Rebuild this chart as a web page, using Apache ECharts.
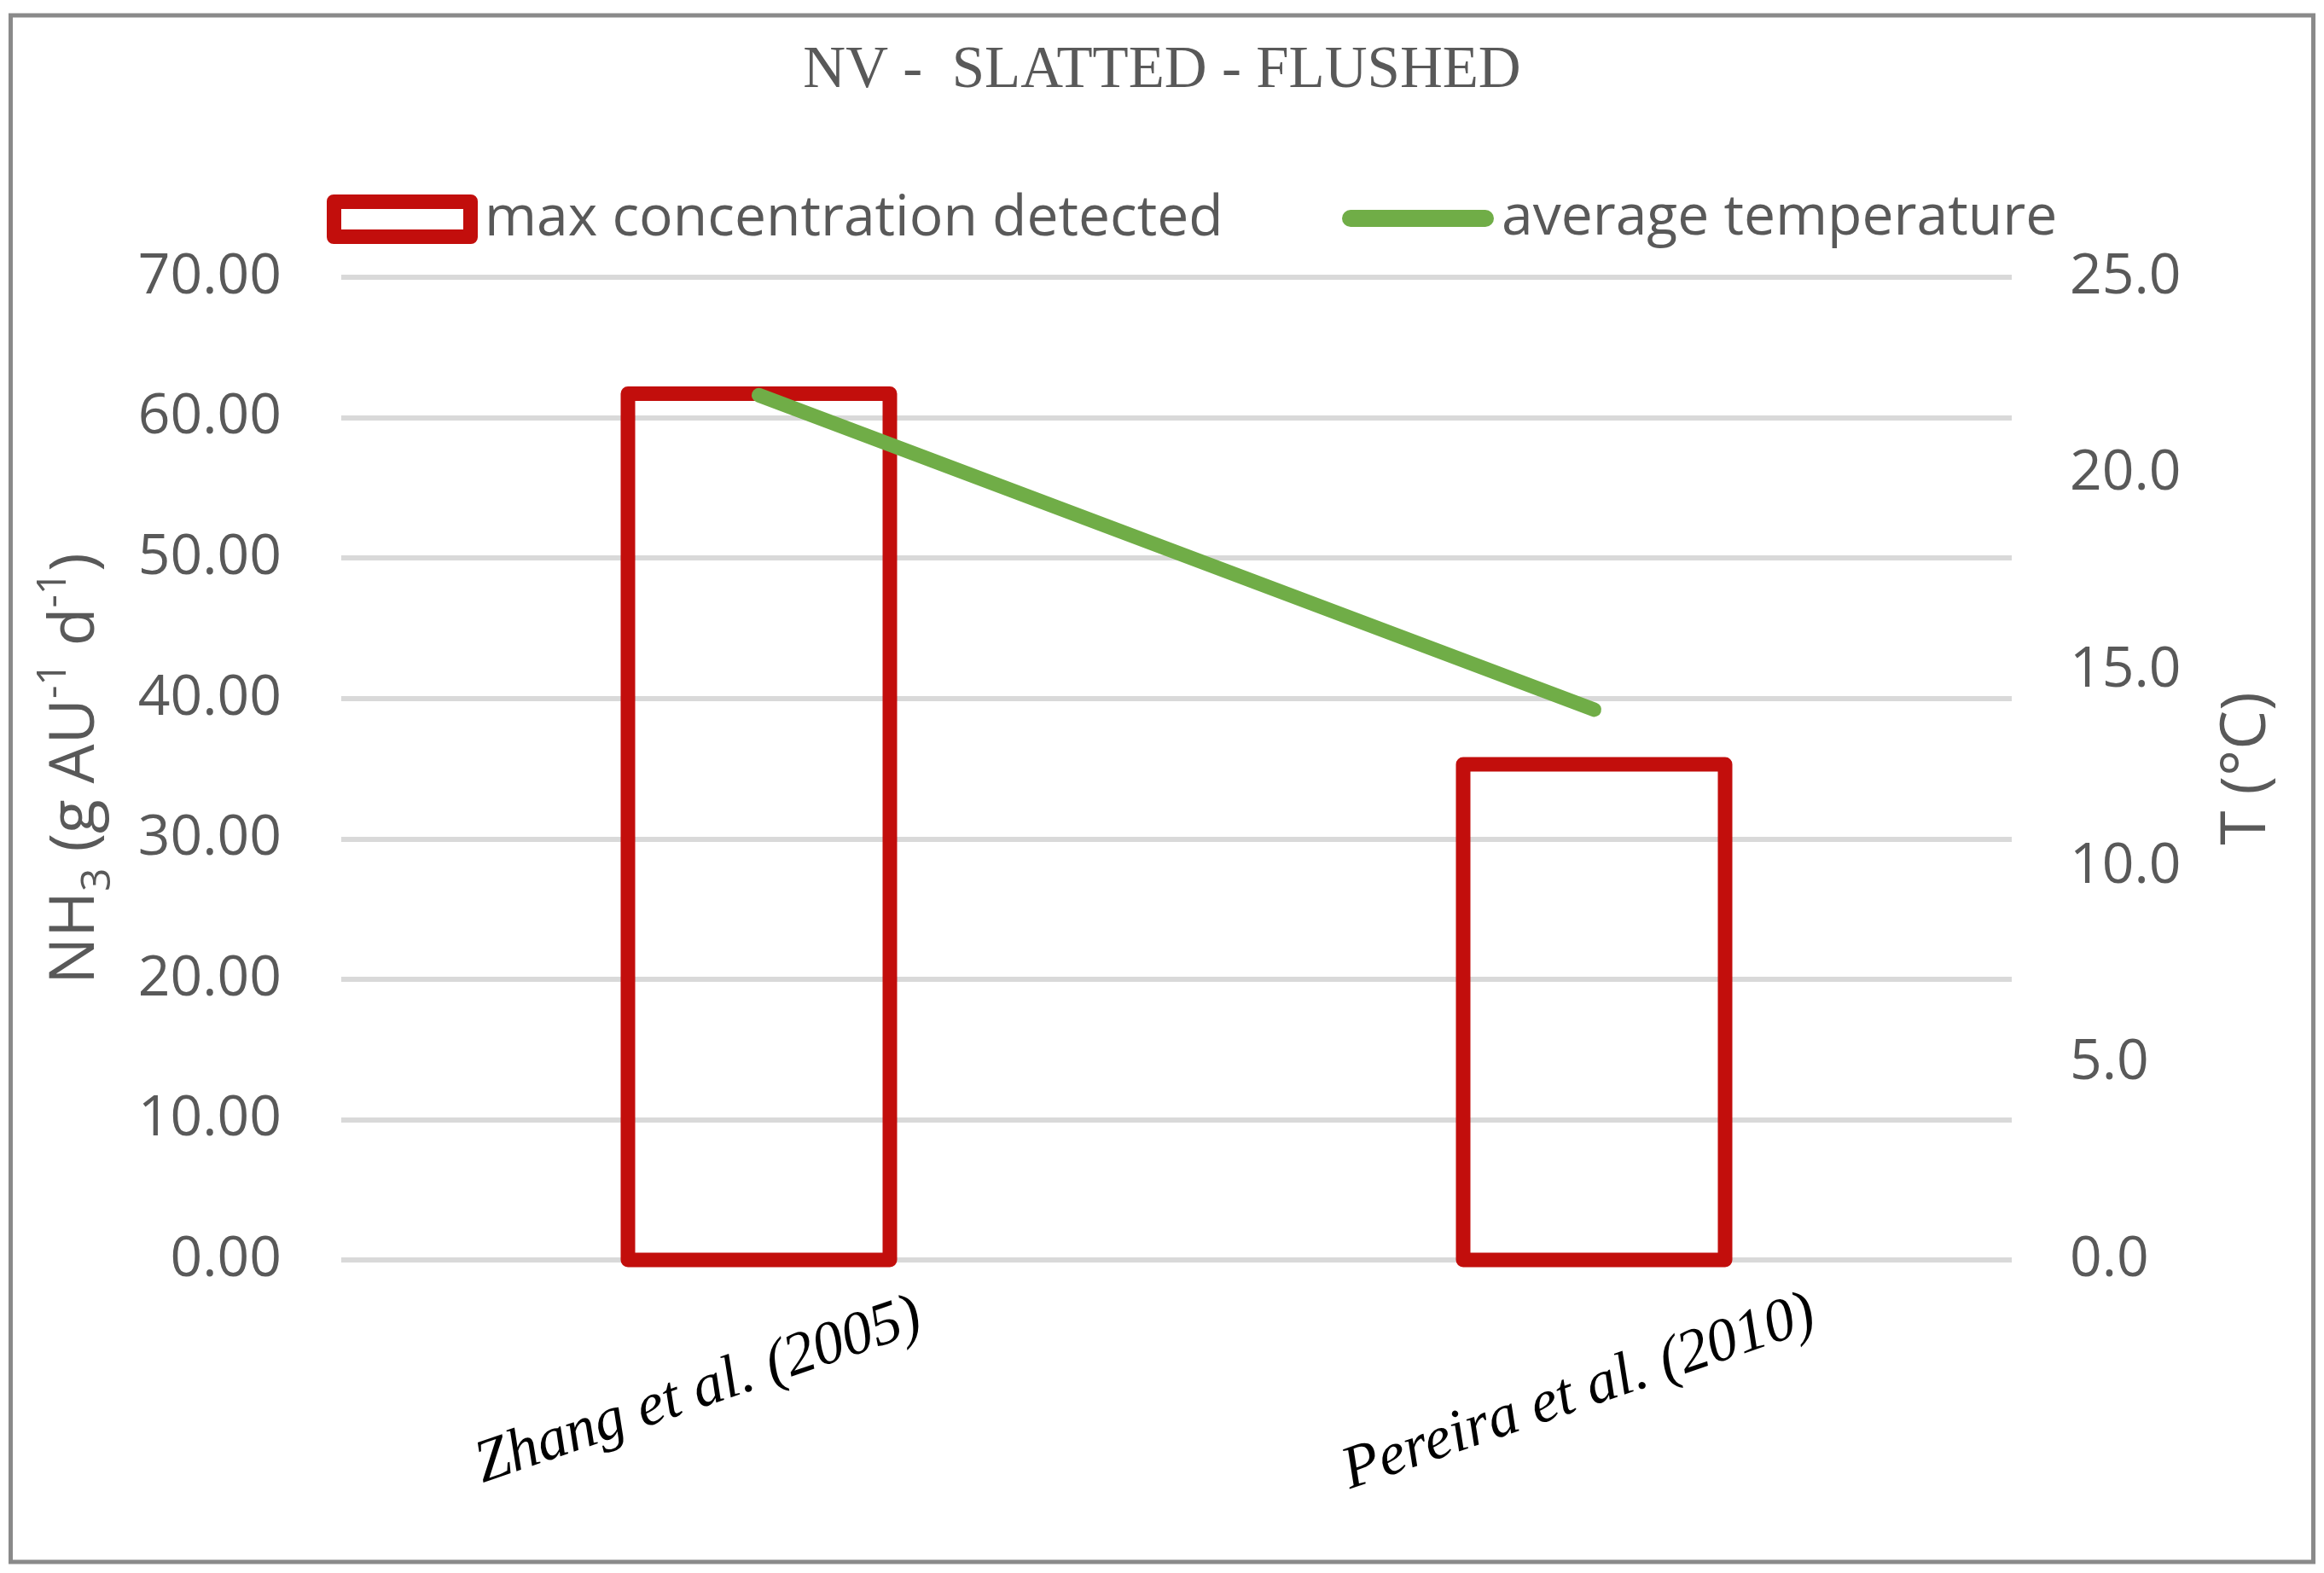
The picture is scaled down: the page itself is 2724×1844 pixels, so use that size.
<!DOCTYPE html>
<html>
<head>
<meta charset="utf-8">
<script src="https://cdn.jsdelivr.net/npm/echarts@6/dist/echarts.min.js"></script>
<style>
  html, body { margin: 0; padding: 0; background: #ffffff; }
  #chart { width: 2724px; height: 1844px; }
</style>
</head>
<body>
<div id="chart"></div>
<script>
// ---- data ----
const categories = ['Zhang et al. (2005)', 'Pereira et al. (2010)'];
const maxConcentration = [61.7, 35.3];   // NH3, g AU-1 d-1 (left axis)
const avgTemperature = [22.0, 14.0];     // T, °C (right axis)
const leftAxisRange = [0, 70, 10];
const rightAxisRange = [0, 25, 5];
const seriesNames = ['max concentration detected', 'average temperature'];
const titleText = 'NV -  SLATTED - FLUSHED';

const RED = '#C20E0C';
const GREEN = '#70AD47';
const GREY = '#595959';
const SANS = '"Open Sans", "Noto Sans", sans-serif';
const SERIF = '"Liberation Serif", "DejaVu Serif", serif';
const BAR_WIDTH = 307;
const BAR_BORDER = 17;

const chart = echarts.init(document.getElementById('chart'), null, { renderer: 'canvas' });

const catFont = { fontFamily: SERIF, fontStyle: 'italic', fontSize: 71, color: '#000' };
const labelRich = {
  c0: Object.assign({}, catFont, { padding: [57, 169, 0, 0] }),
  c1: Object.assign({}, catFont, { padding: [95, 70, 0, 0] })
};

const hollowRectIcon = 'path://M8,0 H169 A8,8 0 0 1 177,8 V50 A8,8 0 0 1 169,58 H8 A8,8 0 0 1 0,50 V8 A8,8 0 0 1 8,0 Z M17,17 V41 H160 V17 Z';
const capsuleIcon = 'path://M10,0 L168,0 A10,10 0 0 1 168,20 L10,20 A10,10 0 0 1 10,0 Z';

// hollow bar: outline centred on the value, like the original
function renderHollowBar(params, api) {
  const top = api.coord([api.value(0), api.value(1)]);
  const base = api.coord([api.value(0), 0]);
  return {
    type: 'rect',
    shape: { x: top[0] - BAR_WIDTH / 2, y: top[1], width: BAR_WIDTH, height: base[1] - top[1] },
    style: { fill: 'none', stroke: RED, lineWidth: BAR_BORDER, lineJoin: 'round' },
    silent: true
  };
}

const option = {
  backgroundColor: '#ffffff',
  animation: false,
  title: {
    text: titleText,
    left: 'center',
    top: 44,
    textStyle: { fontFamily: SERIF, fontSize: 69, fontWeight: 'normal', color: GREY }
  },
  legend: [
    {
      data: [{ name: seriesNames[0], icon: hollowRectIcon, itemStyle: { color: RED, borderWidth: 0 } }],
      left: 383,
      top: 224,
      padding: 0,
      itemWidth: 177,
      itemHeight: 58,
      selectedMode: false,
      textStyle: { fontFamily: SANS, fontSize: 66, color: GREY, padding: [0, 0, 0, 3] }
    },
    {
      data: [{ name: seriesNames[1], icon: capsuleIcon, itemStyle: { color: GREEN, borderWidth: 0 } }],
      left: 1573,
      top: 223,
      padding: 0,
      itemWidth: 178,
      itemHeight: 20,
      selectedMode: false,
      textStyle: { fontFamily: SANS, fontSize: 66, color: GREY, padding: [0, 0, 0, 4] }
    }
  ],
  grid: { left: 400, right: 366, top: 325, bottom: 367, containLabel: false },
  xAxis: {
    type: 'category',
    data: categories,
    axisLine: { show: false },
    axisTick: { show: false },
    axisLabel: Object.assign({
      interval: 0,
      rotate: 19,
      margin: 100,
      align: 'center',
      verticalAlign: 'middle',
      formatter: function (v, i) { return '{c' + i + '|' + v + '}'; },
      rich: labelRich
    }, catFont)
  },
  yAxis: [
    {
      type: 'value',
      min: leftAxisRange[0], max: leftAxisRange[1], interval: leftAxisRange[2],
      axisLine: { show: false },
      axisTick: { show: false },
      splitLine: { show: true, lineStyle: { color: '#D9D9D9', width: 6 } },
      axisLabel: {
        margin: 70,
        fontFamily: SANS, fontSize: 66, color: GREY,
        formatter: function (v) { return v.toFixed(2); }
      },
      name: '{n|NH}{sub|3}{n| (g AU}{sup|-1}{n| d}{sup|-1}{n|)}',
      nameLocation: 'middle',
      nameGap: 261,
      nameTextStyle: {
        fontFamily: SANS, fontSize: 73, color: GREY,
        rich: {
          n: { fontFamily: SANS, fontSize: 73, color: GREY, lineHeight: 100 },
          sub: { fontFamily: SANS, fontSize: 48, color: GREY, lineHeight: 40, verticalAlign: 'bottom' },
          sup: { fontFamily: SANS, fontSize: 48, color: GREY, lineHeight: 60, verticalAlign: 'top' }
        }
      }
    },
    {
      type: 'value',
      position: 'right',
      min: rightAxisRange[0], max: rightAxisRange[1], interval: rightAxisRange[2],
      axisLine: { show: false },
      axisTick: { show: false },
      splitLine: { show: false },
      axisLabel: {
        margin: 68,
        fontFamily: SANS, fontSize: 66, color: GREY,
        formatter: function (v) { return v.toFixed(1); }
      },
      name: 'T (°C)',
      nameLocation: 'middle',
      nameGap: 240,
      nameTextStyle: { fontFamily: SANS, fontSize: 73, color: GREY }
    }
  ],
  series: [
    {
      name: seriesNames[0],
      type: 'custom',
      xAxisIndex: 0,
      yAxisIndex: 0,
      data: maxConcentration.map(function (v, i) { return [i, v]; }),
      encode: { x: 0, y: 1 },
      renderItem: renderHollowBar,
      itemStyle: { color: RED },
      z: 2
    },
    {
      name: seriesNames[1],
      type: 'line',
      yAxisIndex: 1,
      data: avgTemperature,
      symbol: 'none',
      lineStyle: { color: GREEN, width: 17, cap: 'round' },
      itemStyle: { color: GREEN },
      emphasis: { disabled: true },
      z: 3
    }
  ],
  graphic: [
    {
      type: 'rect',
      shape: { x: 12.5, y: 18, width: 2699, height: 1813 },
      style: { fill: 'none', stroke: '#8A8A8A', lineWidth: 5 },
      silent: true,
      z: 100
    }
  ]
};

chart.setOption(option);
</script>
</body>
</html>
